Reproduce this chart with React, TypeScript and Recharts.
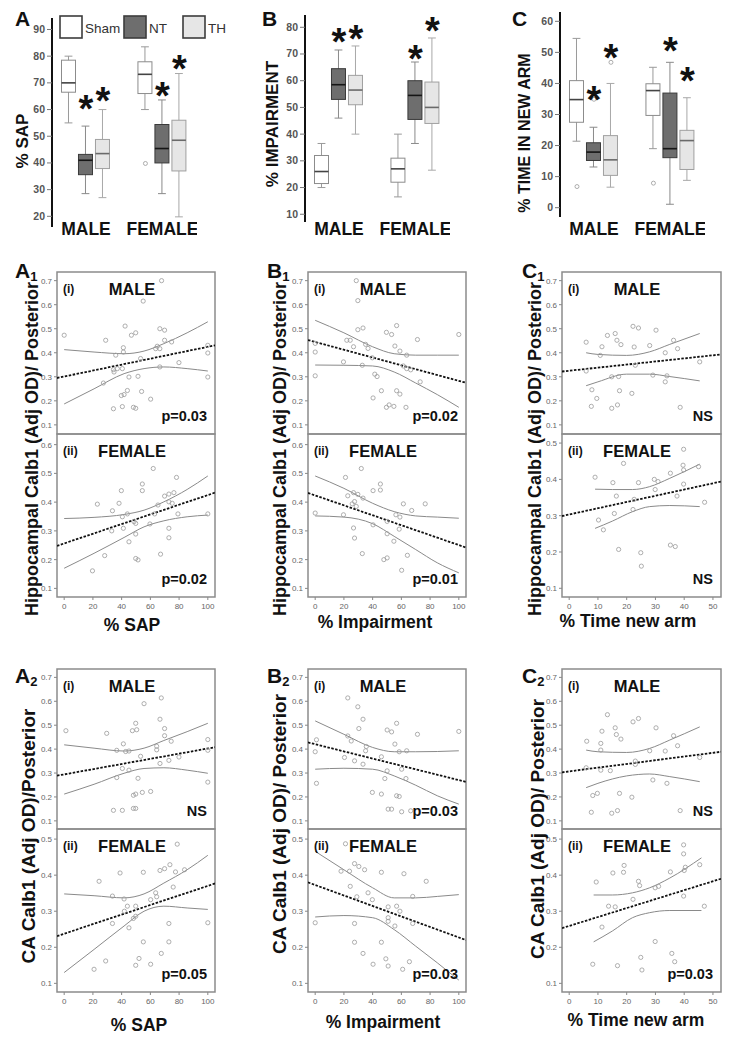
import React from 'react';
import { ComposedChart, Bar, Scatter, Line, XAxis, YAxis, ReferenceArea } from 'recharts';

const FONT = '"Liberation Sans", Arial, Helvetica, sans-serif';

// ---------------- Box plot data (top row) ----------------
const groupNames = ['Sham', 'NT', 'TH'];
const sexNames = ['MALE', 'FEMALE'];
// [min, q1, median, q3, max] for Male Sham, NT, TH, Female Sham, NT, TH
const sapBoxes = [
  [55, 66.5, 70, 78.5, 80],
  [28.5, 35.6, 41, 43.2, 53.8],
  [27, 37.9, 43.5, 48.8, 60],
  [60, 66, 73.2, 77.9, 83.5],
  [28.5, 40, 45.4, 54.4, 63.6],
  [19.8, 37, 48.5, 56, 73.5],
];
const sapOutliers = [[3, 39.8]];
const sapStars = [null, 63.5, 66.6, null, 68.5, 78.5];

const impBoxes = [
  [20, 21.5, 26, 32, 36.5],
  [46, 53, 58.5, 64.5, 71.5],
  [40, 51, 56.5, 62, 73],
  [16.5, 22, 27, 31, 40],
  [36.5, 45.5, 54.5, 60, 67],
  [26.5, 44, 50, 59.5, 76],
];
const impOutliers: number[][] = [];
const impStars = [null, 77.9, 79, null, 71.5, 82];

const armBoxes = [
  [21.4, 27.5, 34.8, 40.9, 54.5],
  [13.1, 15.2, 17.9, 20.9, 25.9],
  [6.6, 10.4, 15.4, 23.2, 40],
  [19, 29.7, 37.7, 39.9, 45.2],
  [1.1, 16.1, 19, 36.9, 46.8],
  [8.8, 12.3, 21.6, 24.9, 35.4],
];
const armOutliers = [[0, 6.8], [1, 34.9], [2, 46.8], [3, 7.9]];
const armStars = [null, 37.7, 51, null, 53.3, 43.6];

const sapTicks = [20, 30, 40, 50, 60, 70, 80, 90];
const impTicks = [10, 20, 30, 40, 50, 60, 70, 80];
const armTicks = [0, 10, 20, 30, 40, 50, 60];

// ---------------- Scatter data ----------------
const a1Male = [[0,0.473],[28.9,0.452],[35.9,0.39],[41.2,0.421],[42.4,0.511],[46.8,0.473],[49.8,0.483],[41.2,0.403],[55,0.615],[67.8,0.7],[66.6,0.5],[69.9,0.494],[64.8,0.427],[63.7,0.417],[69.9,0.452],[74.8,0.445],[66.6,0.417],[53.2,0.376],[66.6,0.341],[79.9,0.359],[100,0.431],[100,0.399],[100,0.299],[27.3,0.274],[34.3,0.33],[37,0.334],[40.5,0.334],[45.1,0.299],[51.4,0.302],[44,0.243],[41.7,0.226],[39.8,0.222],[53.9,0.239],[60.2,0.207],[34.3,0.167],[40.5,0.176],[48.2,0.173],[49.8,0.169],[34.7,0.32]];
const a1MaleFit = [[-5,0.295],[105,0.431]];
const a1MaleUp = [[0,0.413],[20.8,0.403],[41.7,0.396],[55.6,0.407],[69.4,0.438],[85.6,0.483],[100,0.529]];
const a1MaleLo = [[0,0.187],[20.8,0.25],[41.7,0.313],[55.6,0.334],[69.4,0.341],[85.6,0.334],[100,0.324]];

const a1Female = [[62,0.517],[78.2,0.486],[54.4,0.463],[39.8,0.44],[54.4,0.44],[23.1,0.393],[38.2,0.396],[76.4,0.433],[72.9,0.428],[69.9,0.421],[72.9,0.401],[75.2,0.396],[65.3,0.39],[33.6,0.37],[44,0.359],[40.5,0.349],[63,0.359],[79.2,0.359],[100,0.359],[48.6,0.332],[49.8,0.326],[41.2,0.309],[33.1,0.3],[59.7,0.324],[72.9,0.309],[49.8,0.289],[45.1,0.262],[72.9,0.276],[28.2,0.214],[49.8,0.204],[51.4,0.199],[67.1,0.219],[19.7,0.161]];
const a1FemaleFit = [[-5,0.248],[105,0.433]];
const a1FemaleUp = [[0,0.343],[20.8,0.347],[41.7,0.357],[55.6,0.372],[69.4,0.401],[85.6,0.444],[100,0.491]];
const a1FemaleLo = [[0,0.17],[20.8,0.222],[41.7,0.277],[55.6,0.314],[69.4,0.335],[85.6,0.349],[100,0.355]];

const a2Male = [[67.6,0.614],[55.6,0.59],[1.2,0.477],[29.6,0.466],[49.8,0.508],[47.5,0.477],[50.5,0.481],[66.7,0.525],[69.9,0.486],[69.9,0.456],[41.2,0.422],[74.5,0.433],[36.6,0.395],[42.8,0.39],[45.1,0.392],[64.4,0.397],[64.4,0.412],[53.2,0.37],[72.9,0.353],[79.9,0.367],[100,0.44],[100,0.395],[100,0.262],[66.7,0.34],[40.5,0.319],[45.1,0.312],[36.6,0.281],[51.4,0.278],[49.8,0.212],[48.2,0.207],[54.4,0.219],[60.2,0.223],[34.3,0.144],[40.5,0.144],[48.2,0.152],[49.8,0.152]];
const a2MaleFit = [[-5,0.289],[105,0.408]];
const a2MaleUp = [[0,0.418],[20.8,0.404],[41.7,0.392],[55.6,0.404],[69.4,0.436],[85.6,0.473],[100,0.508]];
const a2MaleLo = [[0,0.212],[20.8,0.253],[41.7,0.299],[55.6,0.319],[69.4,0.322],[85.6,0.312],[100,0.299]];

const a2Female = [[78.7,0.486],[24.3,0.383],[38.9,0.406],[55.1,0.408],[66.7,0.413],[69.9,0.418],[73.6,0.429],[77.5,0.409],[83.8,0.415],[33.6,0.342],[41.7,0.334],[63.7,0.351],[64.4,0.34],[60.2,0.332],[44,0.314],[49.8,0.314],[41.9,0.3],[75.9,0.367],[48.2,0.28],[49.8,0.286],[45.1,0.254],[33.6,0.266],[72.9,0.266],[100,0.268],[55.1,0.215],[72.9,0.215],[67.6,0.183],[52.1,0.169],[28.9,0.162],[20.8,0.139],[49.8,0.15],[60.2,0.153]];
const a2FemaleFit = [[-5,0.231],[105,0.377]];
const a2FemaleUp = [[0,0.348],[20.8,0.343],[41.7,0.337],[55.6,0.348],[69.4,0.378],[85.6,0.415],[100,0.455]];
const a2FemaleLo = [[0,0.13],[20.8,0.194],[41.7,0.259],[55.6,0.3],[69.4,0.314],[85.6,0.309],[100,0.305]];

const b1Male = [[28.6,0.7],[29.7,0.617],[0,0.439],[0,0.403],[0,0.304],[19.7,0.362],[22,0.452],[24.4,0.452],[26.7,0.425],[29.7,0.496],[33.3,0.503],[35.1,0.435],[36.8,0.418],[32.8,0.348],[39.8,0.379],[49.6,0.485],[53.2,0.476],[56.7,0.513],[55.5,0.428],[59,0.407],[63.7,0.39],[71.2,0.455],[100,0.476],[41.5,0.311],[43.1,0.301],[61.4,0.345],[63.7,0.334],[66.5,0.329],[73.1,0.279],[46.1,0.242],[56.7,0.242],[59,0.228],[40.3,0.212],[49.6,0.173],[51.5,0.183],[54.8,0.177],[63.2,0.173]];
const b1MaleFit = [[-5,0.453],[105,0.275]];
const b1MaleUp = [[0,0.535],[20,0.483],[40,0.425],[55,0.396],[70,0.39],[85,0.39],[100,0.39]];
const b1MaleLo = [[0,0.349],[20,0.348],[40,0.345],[55,0.32],[70,0.274],[85,0.226],[100,0.173]];

const b1Female = [[32.1,0.517],[21.1,0.486],[45.4,0.463],[45.4,0.442],[40.3,0.44],[22.7,0.422],[26.7,0.433],[29.7,0.427],[33.3,0.414],[27.4,0.402],[25.8,0.394],[28.6,0.385],[61.4,0.394],[76.6,0.394],[67.2,0.371],[0,0.362],[19.7,0.356],[56.2,0.356],[59,0.348],[50.1,0.333],[40.3,0.321],[58.5,0.306],[50.1,0.29],[26.7,0.31],[27.4,0.275],[54.8,0.264],[32.8,0.221],[47.8,0.2],[50.1,0.206],[64.2,0.215],[60.2,0.163]];
const b1FemaleFit = [[-5,0.432],[105,0.242]];
const b1FemaleUp = [[0,0.491],[20,0.448],[40,0.396],[55,0.367],[70,0.352],[85,0.348],[100,0.344]];
const b1FemaleLo = [[0,0.352],[20,0.348],[40,0.325],[55,0.281],[70,0.235],[85,0.189],[100,0.154]];

const b2Male = [[22.7,0.614],[29.7,0.577],[33.3,0.525],[30.4,0.486],[56.7,0.508],[50.1,0.48],[53.2,0.472],[71.2,0.462],[100,0.474],[0.9,0.439],[22.7,0.455],[25.1,0.434],[0,0.389],[35.6,0.411],[35.1,0.393],[55.5,0.421],[58.5,0.389],[63.7,0.393],[46.1,0.368],[20.4,0.365],[27.4,0.351],[33.3,0.337],[50.1,0.309],[60.2,0.316],[63.2,0.277],[48.5,0.277],[0.9,0.257],[39.8,0.219],[46.1,0.212],[56.7,0.205],[58.5,0.202],[50.8,0.149],[53.2,0.149],[60.2,0.138],[66.5,0.142]];
const b2MaleFit = [[-5,0.428],[105,0.263]];
const b2MaleUp = [[0,0.518],[20,0.462],[40,0.407],[55,0.389],[70,0.389],[85,0.39],[100,0.393]];
const b2MaleLo = [[0,0.316],[20,0.32],[40,0.316],[55,0.288],[70,0.249],[85,0.205],[100,0.17]];

const b2Female = [[21.1,0.487],[18,0.411],[23.9,0.411],[27.4,0.432],[30.4,0.424],[34.4,0.415],[46.1,0.408],[61.8,0.404],[77.3,0.383],[24.4,0.369],[29,0.34],[36.8,0.351],[39.8,0.332],[67.9,0.341],[50.8,0.312],[56.7,0.314],[59,0.3],[0,0.268],[27.4,0.266],[50.8,0.282],[50.8,0.272],[55.5,0.259],[67.9,0.266],[27.4,0.214],[46.1,0.214],[33.3,0.183],[40.3,0.153],[49.2,0.168],[50.8,0.148],[60.9,0.139],[65.6,0.16]];
const b2FemaleFit = [[-5,0.38],[105,0.22]];
const b2FemaleUp = [[0,0.466],[20,0.415],[40,0.365],[55,0.337],[70,0.337],[85,0.341],[100,0.346]];
const b2FemaleLo = [[0,0.284],[20,0.288],[40,0.282],[55,0.249],[70,0.203],[85,0.157],[100,0.109]];

const c1Male = [[5.9,0.444],[11.4,0.425],[10.8,0.389],[13.3,0.472],[16,0.48],[16.6,0.452],[18,0.434],[22.2,0.51],[24.1,0.503],[22.6,0.424],[28,0.43],[30.2,0.494],[36.3,0.452],[37.7,0.417],[33.4,0.4],[45.4,0.362],[23,0.348],[5.9,0.324],[14.8,0.3],[17.2,0.301],[29.1,0.307],[34,0.304],[33.4,0.279],[7.9,0.246],[17.5,0.242],[21.8,0.231],[9.6,0.21],[7.7,0.177],[14.8,0.169],[16.8,0.183],[38.6,0.173]];
const c1MaleFit = [[-2.5,0.322],[52.8,0.393]];
const c1MaleUp = [[5.9,0.4],[10,0.393],[20,0.389],[28,0.404],[35,0.435],[45.4,0.48]];
const c1MaleLo = [[5.9,0.263],[10,0.279],[20,0.311],[28,0.311],[35,0.301],[45.4,0.283]];

const c1Female = [[39.8,0.483],[18.9,0.444],[39.6,0.439],[9,0.406],[15.2,0.391],[24.1,0.391],[29.6,0.4],[30.9,0.394],[35.2,0.417],[39.8,0.426],[45,0.435],[39.8,0.387],[37.5,0.354],[16.4,0.354],[22.6,0.345],[15.7,0.306],[22.2,0.317],[10.2,0.288],[11.9,0.261],[47.1,0.337],[29.9,0.372],[17.2,0.207],[24.9,0.198],[25.1,0.161],[35.2,0.219],[36.9,0.215]];
const c1FemaleFit = [[-2.5,0.299],[52.8,0.394]];
const c1FemaleUp = [[9,0.373],[15,0.372],[22,0.372],[28,0.38],[35,0.403],[45.4,0.442]];
const c1FemaleLo = [[9,0.265],[15,0.285],[22,0.311],[28,0.325],[35,0.328],[45.4,0.325]];

const c2Male = [[6.1,0.433],[11.4,0.475],[13.3,0.544],[16,0.489],[16.4,0.461],[18,0.442],[22.2,0.514],[24.1,0.528],[30.2,0.489],[36.3,0.456],[37.7,0.414],[28,0.393],[33.4,0.392],[11,0.424],[11,0.396],[23,0.35],[23,0.336],[5.9,0.322],[11,0.312],[14.3,0.31],[45.4,0.365],[29.1,0.271],[34,0.257],[8.2,0.206],[9.8,0.215],[17.5,0.215],[21.8,0.199],[7.7,0.136],[14.8,0.132],[16.8,0.143],[38.6,0.143]];
const c2MaleFit = [[-2.5,0.303],[52.8,0.389]];
const c2MaleUp = [[5.9,0.396],[10,0.389],[20,0.386],[28,0.403],[35,0.438],[45.4,0.493]];
const c2MaleLo = [[5.9,0.239],[10,0.257],[20,0.288],[28,0.296],[35,0.285],[45.4,0.264]];

const c2Female = [[39.8,0.484],[39.8,0.459],[9.4,0.381],[15.2,0.406],[19.1,0.427],[18.9,0.408],[24.1,0.383],[24.5,0.371],[35.2,0.409],[40.4,0.422],[40,0.413],[45.4,0.429],[29.9,0.365],[31.1,0.369],[39.8,0.342],[22.2,0.333],[13.7,0.314],[16,0.312],[47,0.314],[11.4,0.256],[29.9,0.216],[8.2,0.153],[16.8,0.149],[25.3,0.137],[24.9,0.172],[35.7,0.183],[36.7,0.16]];
const c2FemaleFit = [[-2.5,0.253],[52.8,0.39]];
const c2FemaleUp = [[8.5,0.345],[15,0.345],[22,0.351],[28,0.365],[35,0.392],[46,0.448]];
const c2FemaleLo = [[8.5,0.215],[15,0.245],[22,0.282],[28,0.296],[35,0.302],[46,0.302]];

const pctTicks = [0, 20, 40, 60, 80, 100];
const armXTicks = [0, 10, 20, 30, 40, 50];
const odTicks7 = [0.1, 0.2, 0.3, 0.4, 0.5, 0.6, 0.7];
const odTicks6 = [0.1, 0.2, 0.3, 0.4, 0.5, 0.6];
const odTicks5 = [0.1, 0.2, 0.3, 0.4, 0.5];

const pLabels = [
  ['p=0.03', 'p=0.02'],
  ['p=0.02', 'p=0.01'],
  ['NS', 'NS'],
  ['NS', 'p=0.05'],
  ['p=0.03', 'p=0.03'],
  ['NS', 'p=0.03'],
];

// ---------------- styles ----------------
const boxFill = ['#ffffff', '#6e6e6e', '#e6e6e6'];
const boxStroke = ['#8c8c8c', '#3a3a3a', '#a0a0a0'];
const medStroke = ['#444444', '#151515', '#6a6a6a'];
const whiskStroke = ['#9a9a9a', '#8a8a8a', '#a8a8a8'];
const boxX = [1, 2, 3, 5.5, 6.5, 7.5];
const sexTickX = [2, 6.5];

const BoxShape = (props: any) => {
  const { x, y, width, height } = props;
  const d = props.payload ?? props;
  if (x == null || y == null || !d) return null;
  const span = d.max - d.min;
  const py = (v: number) => y + (height * (d.max - v)) / span;
  const cx = x + width / 2;
  const ch = width * 0.28;
  const g = d.g;
  return (
    <g>
      <line x1={cx} x2={cx} y1={py(d.max)} y2={py(d.min)} stroke={whiskStroke[g]} strokeWidth={1} />
      <line x1={cx - ch} x2={cx + ch} y1={py(d.max)} y2={py(d.max)} stroke={whiskStroke[g]} strokeWidth={1} />
      <line x1={cx - ch} x2={cx + ch} y1={py(d.min)} y2={py(d.min)} stroke={whiskStroke[g]} strokeWidth={1} />
      <rect x={x} y={py(d.q3)} width={width} height={py(d.q1) - py(d.q3)} fill={boxFill[g]} stroke={boxStroke[g]} strokeWidth={1} />
      <line x1={x} x2={x + width} y1={py(d.med)} y2={py(d.med)} stroke={medStroke[g]} strokeWidth={1.6} />
    </g>
  );
};

const StarMark = (props: any) => {
  const { cx, cy } = props;
  if (cx == null || cy == null) return null;
  const fs = 38;
  return (
    <text x={cx} y={cy + 0.58 * fs} textAnchor="middle" fontSize={fs} fontWeight="bold" fontFamily={FONT} fill="#111">*</text>
  );
};

const OutlierDot = (props: any) => {
  const { cx, cy } = props;
  if (cx == null || cy == null) return null;
  return <circle cx={cx} cy={cy} r={2} fill="#fff" stroke="#999" strokeWidth={0.8} />;
};

const PointDot = (props: any) => {
  const { cx, cy } = props;
  if (cx == null || cy == null) return null;
  return <circle cx={cx} cy={cy} r={2.1} fill="#fff" fillOpacity={0} stroke="#9a9a9a" strokeWidth={0.8} />;
};

function BoxPanel(props: {
  plotLeft: number; plotTop: number; ph: number; yDomain: number[]; yTicks: number[];
  boxes: number[][]; outliers: number[][]; stars: (number | null)[];
}) {
  const { plotLeft, plotTop, ph, yDomain, yTicks, boxes, outliers, stars } = props;
  const YW = 45, MT = 4, MR = 4, XH = 26, pw = 141;
  const data = boxes.map((b, i) => ({ x: boxX[i], g: i % 3, name: `${sexNames[Math.floor(i / 3)]} ${groupNames[i % 3]}`, min: b[0], q1: b[1], med: b[2], q3: b[3], max: b[4] }));
  const outData = outliers.map(([i, v]) => ({ x: boxX[i], y: v }));
  const starData = stars.map((v, i) => (v == null ? null : { x: boxX[i], y: v })).filter(Boolean) as any[];
  const labelDy = 235 - (plotTop + ph);
  return (
    <div style={{ position: 'absolute', left: plotLeft - YW, top: plotTop - MT }}>
      <ComposedChart width={YW + pw + MR} height={MT + ph + XH} data={data} margin={{ top: MT, right: MR, bottom: 0, left: 0 }}>
        <XAxis dataKey="x" type="number" domain={[0, 8.3]} ticks={sexTickX} allowDataOverflow interval={0}
          axisLine={false} tickLine={false} tickSize={0} tickMargin={0} height={XH}
          tick={(p: any) => (
            <text x={p.x} y={p.y + labelDy} textAnchor="middle" fontSize={17.5} fontWeight="bold" fontFamily={FONT} fill="#111">
              {sexNames[sexTickX.indexOf(p.payload.value)]}
            </text>
          )} />
        <YAxis type="number" domain={yDomain} ticks={yTicks} allowDataOverflow interval={0} width={YW}
          axisLine={{ stroke: '#111', strokeWidth: 2 }} tickLine={{ stroke: '#777' }} tickSize={5} tickMargin={2}
          tick={(p: any) => (
            <text x={p.x} y={p.y + 3.5} textAnchor="end" fontSize={10.5} fontWeight="bold" fontFamily={FONT} fill="#555">
              {p.payload.value}
            </text>
          )} />
        <Bar dataKey={(d: any) => [d.min, d.max]} barSize={14} shape={BoxShape} isAnimationActive={false} />
        <Scatter data={outData} dataKey="y" shape={OutlierDot} isAnimationActive={false} />
        <Scatter data={starData} dataKey="y" shape={StarMark} isAnimationActive={false} />
      </ComposedChart>
    </div>
  );
}

const toObj = (a: number[][]) => a.map(([x, y]) => ({ x, y }));

function ScatterPanel(props: {
  left: number; top: number; w: number; h: number; xDomain: number[]; xTicks: number[];
  yDomain: number[]; yTicks: number[]; pts: number[][]; fit: number[][]; up: number[][]; lo: number[][]; showX: boolean;
}) {
  const { left, top, w, h, xDomain, xTicks, yDomain, yTicks, pts, fit, up, lo, showX } = props;
  const YW = 30, M = 2, XH = 16;
  return (
    <div style={{ position: 'absolute', left: left - YW, top: top - M }}>
      <ComposedChart width={YW + w + M} height={M + h + (showX ? XH : M)}
        margin={{ top: M, right: M, bottom: showX ? 0 : M, left: 0 }}>
        <XAxis dataKey="x" type="number" domain={xDomain} ticks={xTicks} allowDataOverflow interval={0}
          hide={!showX} height={XH} axisLine={false} tickLine={{ stroke: '#888' }} tickSize={3} tickMargin={2}
          tick={(p: any) => (
            <text x={p.x} y={p.y + 7} textAnchor="middle" fontSize={8} fontFamily={FONT} fill="#666">{p.payload.value}</text>
          )} />
        <YAxis dataKey="y" type="number" domain={yDomain} ticks={yTicks} allowDataOverflow interval={0} width={YW}
          axisLine={false} tickLine={{ stroke: '#888' }} tickSize={3} tickMargin={2}
          tick={(p: any) => (
            <text x={p.x} y={p.y + 3} textAnchor="end" fontSize={8} fontFamily={FONT} fill="#666">{Number(p.payload.value).toFixed(1)}</text>
          )} />
        <ReferenceArea x1={xDomain[0]} x2={xDomain[1]} y1={yDomain[0]} y2={yDomain[1]} fill="#ffffff" fillOpacity={0}
          stroke="#8c8c8c" strokeWidth={1.5} ifOverflow="visible" />
        <Line data={toObj(up)} dataKey="y" type="monotone" stroke="#8a8a8a" strokeWidth={1} dot={false} isAnimationActive={false} />
        <Line data={toObj(lo)} dataKey="y" type="monotone" stroke="#8a8a8a" strokeWidth={1} dot={false} isAnimationActive={false} />
        <Scatter data={toObj(pts)} dataKey="y" shape={PointDot} isAnimationActive={false} />
        <Line data={toObj(fit)} dataKey="y" type="linear" stroke="#111" strokeWidth={1.8} strokeDasharray="2.5 1.5" dot={false} isAnimationActive={false} />
      </ComposedChart>
    </div>
  );
}

// ---------------- layout ----------------
const cols = [
  { left: 57, w: 158, xDomain: [-5, 105], xTicks: pctTicks },
  { left: 308, w: 158, xDomain: [-5, 105], xTicks: pctTicks },
  { left: 562, w: 159, xDomain: [-2.5, 52.8], xTicks: armXTicks },
];
const rowTops = [
  { top: 272, h: 162, yDomain: [0.062, 0.736], ticks: odTicks7 },
  { top: 669, h: 160, yDomain: [0.066, 0.735], ticks: odTicks7 },
];
const rowBottoms = [
  [
    { top: 434, h: 163, yDomain: [0.07, 0.637], ticks: odTicks6 },
    { top: 434, h: 163, yDomain: [0.07, 0.637], ticks: odTicks6 },
    { top: 434, h: 163, yDomain: [0.076, 0.525], ticks: odTicks5 },
  ],
  [
    { top: 829, h: 163, yDomain: [0.076, 0.528], ticks: odTicks5 },
    { top: 829, h: 163, yDomain: [0.076, 0.528], ticks: odTicks5 },
    { top: 829, h: 163, yDomain: [0.076, 0.528], ticks: odTicks5 },
  ],
];
const panelData = [
  [
    { m: [a1Male, a1MaleFit, a1MaleUp, a1MaleLo], f: [a1Female, a1FemaleFit, a1FemaleUp, a1FemaleLo] },
    { m: [b1Male, b1MaleFit, b1MaleUp, b1MaleLo], f: [b1Female, b1FemaleFit, b1FemaleUp, b1FemaleLo] },
    { m: [c1Male, c1MaleFit, c1MaleUp, c1MaleLo], f: [c1Female, c1FemaleFit, c1FemaleUp, c1FemaleLo] },
  ],
  [
    { m: [a2Male, a2MaleFit, a2MaleUp, a2MaleLo], f: [a2Female, a2FemaleFit, a2FemaleUp, a2FemaleLo] },
    { m: [b2Male, b2MaleFit, b2MaleUp, b2MaleLo], f: [b2Female, b2FemaleFit, b2FemaleUp, b2FemaleLo] },
    { m: [c2Male, c2MaleFit, c2MaleUp, c2MaleLo], f: [c2Female, c2FemaleFit, c2FemaleUp, c2FemaleLo] },
  ],
];
const xTitles = [
  [{ t: '% SAP', x: 132, y: 631 }, { t: '% Impairment', x: 375, y: 628 }, { t: '% Time new arm', x: 628, y: 627 }],
  [{ t: '% SAP', x: 139, y: 1031 }, { t: '% Impairment', x: 383, y: 1028 }, { t: '% Time new arm', x: 636, y: 1026 }],
];
const yTitles = [
  { t: 'Hippocampal Calb1 (Adj OD)/ Posterior', x: 32, y: 449, s: 18 },
  { t: 'Hippocampal Calb1 (Adj OD)/ Posterior', x: 280, y: 449, s: 18 },
  { t: 'Hippocampal Calb1 (Adj OD)/ Posterior', x: 535, y: 449, s: 18 },
  { t: 'CA Calb1 (Adj OD)/Posterior', x: 28, y: 836, s: 19 },
  { t: 'CA Calb1 (Adj OD)/ Posterior', x: 279, y: 824, s: 19 },
  { t: 'CA Calb1 (Adj OD)/ Posterior', x: 537, y: 829, s: 19 },
];
const panelTags = [
  { l: 'A', sub: '1', x: 15, y: 278 }, { l: 'B', sub: '1', x: 267, y: 278 }, { l: 'C', sub: '1', x: 522, y: 278 },
  { l: 'A', sub: '2', x: 15, y: 683 }, { l: 'B', sub: '2', x: 267, y: 683 }, { l: 'C', sub: '2', x: 522, y: 683 },
];

const VText = ({ x, y, size, children }: any) => (
  <text transform={`translate(${x},${y}) rotate(-90)`} textAnchor="middle" dominantBaseline="central"
    fontSize={size} fontWeight="bold" fontFamily={FONT} fill="#111">{children}</text>
);

export default function App() {
  const legendX = [60, 124, 183];
  return (
    <div style={{ position: 'absolute', left: 0, top: 0, width: 743, height: 1050, background: '#fff', fontFamily: FONT, overflow: 'hidden' }}>
      {/* top row box plots */}
      <BoxPanel plotLeft={52} plotTop={18} ph={209} yDomain={[16, 94.3]} yTicks={sapTicks} boxes={sapBoxes} outliers={sapOutliers} stars={sapStars} />
      <BoxPanel plotLeft={305} plotTop={15} ph={207} yDomain={[7.1, 84.6]} yTicks={impTicks} boxes={impBoxes} outliers={impOutliers} stars={impStars} />
      <BoxPanel plotLeft={560} plotTop={12} ph={205} yDomain={[-3, 63]} yTicks={armTicks} boxes={armBoxes} outliers={armOutliers} stars={armStars} />

      {/* scatter panels */}
      {[0, 1].map((r) =>
        cols.map((c, ci) => {
          const pd = panelData[r][ci];
          const rt = rowTops[r];
          const rb = rowBottoms[r][ci];
          return (
            <React.Fragment key={`${r}-${ci}`}>
              <ScatterPanel left={c.left} top={rt.top} w={c.w} h={rt.h} xDomain={c.xDomain} xTicks={c.xTicks}
                yDomain={rt.yDomain} yTicks={rt.ticks} pts={pd.m[0]} fit={pd.m[1]} up={pd.m[2]} lo={pd.m[3]} showX={false} />
              <ScatterPanel left={c.left} top={rb.top} w={c.w} h={rb.h} xDomain={c.xDomain} xTicks={c.xTicks}
                yDomain={rb.yDomain} yTicks={rb.ticks} pts={pd.f[0]} fit={pd.f[1]} up={pd.f[2]} lo={pd.f[3]} showX={true} />
            </React.Fragment>
          );
        })
      )}

      {/* text overlay */}
      <svg width={743} height={1050} style={{ position: 'absolute', left: 0, top: 0, pointerEvents: 'none' }}>
        {/* top panel letters */}
        {[['A', 15], ['B', 262], ['C', 512]].map(([l, x]) => (
          <text key={l as string} x={x as number} y={26} fontSize={21} fontWeight="bold" fontFamily={FONT} fill="#111">{l}</text>
        ))}
        {/* legend */}
        {groupNames.map((g, i) => (
          <g key={g}>
            <rect x={legendX[i]} y={16} width={22} height={22} fill={boxFill[i]} stroke="#3c3c3c" strokeWidth={1.6} />
            <text x={legendX[i] + 25} y={32.5} fontSize={13.5} fontFamily={FONT} fill="#333">{g}</text>
          </g>
        ))}
        <VText x={22} y={141} size={17}>% SAP</VText>
        <VText x={272} y={124} size={17}>% IMPAIRMENT</VText>
        <VText x={524} y={133} size={16}>% TIME IN NEW ARM</VText>

        {/* scatter titles */}
        {panelTags.map((p, i) => (
          <text key={i} x={p.x} y={p.y} fontSize={21} fontWeight="bold" fontFamily={FONT} fill="#111">
            {p.l}<tspan fontSize={13} dy={3}>{p.sub}</tspan>
          </text>
        ))}
        {yTitles.map((t, i) => (
          <VText key={i} x={t.x} y={t.y} size={t.s}>{t.t}</VText>
        ))}
        {xTitles.flat().map((t, i) => (
          <text key={i} x={t.x} y={t.y} textAnchor="middle" fontSize={17.5} fontWeight="bold" fontFamily={FONT} fill="#111">{t.t}</text>
        ))}
        {[0, 1].map((r) =>
          cols.map((c, ci) => {
            const rt = rowTops[r];
            const rb = rowBottoms[r][ci];
            const pl = pLabels[r * 3 + ci];
            return (
              <g key={`${r}-${ci}`}>
                <text x={c.left + 6} y={rt.top + 21} fontSize={12} fontWeight="bold" fontFamily={FONT} fill="#111">(i)</text>
                <text x={c.left + 75} y={rt.top + 23} textAnchor="middle" fontSize={16.5} fontWeight="bold" fontFamily={FONT} fill="#111">MALE</text>
                <text x={c.left + c.w - 8} y={rt.top + rt.h - 13} textAnchor="end" fontSize={14.5} fontWeight="bold" fontFamily={FONT} fill="#111">{pl[0]}</text>
                <text x={c.left + 6} y={rb.top + 21} fontSize={12} fontWeight="bold" fontFamily={FONT} fill="#111">(ii)</text>
                <text x={c.left + 75} y={rb.top + 23} textAnchor="middle" fontSize={16.5} fontWeight="bold" fontFamily={FONT} fill="#111">FEMALE</text>
                <text x={c.left + c.w - 8} y={rb.top + rb.h - 13} textAnchor="end" fontSize={14.5} fontWeight="bold" fontFamily={FONT} fill="#111">{pl[1]}</text>
              </g>
            );
          })
        )}
      </svg>
    </div>
  );
}
